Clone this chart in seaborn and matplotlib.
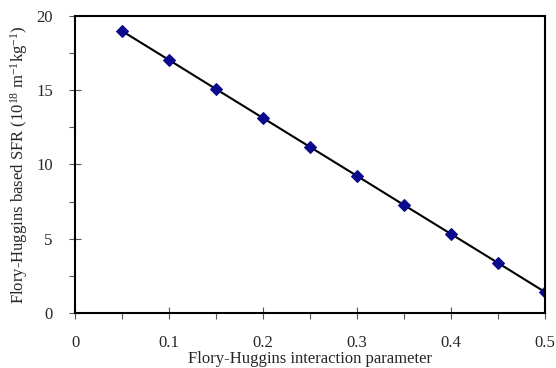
import numpy as np
import pandas as pd
import matplotlib
matplotlib.use("Agg")
import matplotlib.pyplot as plt
import seaborn as sns
from matplotlib.ticker import MultipleLocator

# data
chi = [0.05, 0.10, 0.15, 0.20, 0.25, 0.30, 0.35, 0.40, 0.45, 0.50]
sfr = [18.99, 17.04, 15.08, 13.13, 11.18, 9.23, 7.27, 5.32, 3.37, 1.41]

df = pd.DataFrame({"chi": chi, "sfr": sfr})

sns.set_style("white")
plt.rcParams["font.family"] = ["Liberation Serif", "DejaVu Serif"]
plt.rcParams["mathtext.fontset"] = "custom"
plt.rcParams["mathtext.rm"] = "Liberation Serif"
plt.rcParams["mathtext.it"] = "Liberation Serif:italic"

fig = plt.figure(figsize=(5.56, 3.68), dpi=100)
ax = fig.add_axes([0.1349, 0.1495, 0.8453, 0.807])

sns.lineplot(data=df, x="chi", y="sfr", ax=ax, color="black", linewidth=1.5,
             marker="D", markersize=6, markerfacecolor="#0a0a8c",
             markeredgecolor="#0a0a8c")

ax.set_xlim(0, 0.5)
ax.set_ylim(0, 20)
ax.xaxis.set_major_locator(MultipleLocator(0.1))
ax.xaxis.set_minor_locator(MultipleLocator(0.05))
ax.yaxis.set_major_locator(MultipleLocator(5))
ax.yaxis.set_minor_locator(MultipleLocator(2.5))
ax.set_xticks([0, 0.1, 0.2, 0.3, 0.4, 0.5])
ax.set_xticklabels(["0", "0.1", "0.2", "0.3", "0.4", "0.5"])

for side in ["left", "right", "top", "bottom"]:
    ax.spines[side].set_color("black")
    ax.spines[side].set_linewidth(1.5)

ax.tick_params(which="major", direction="inout", length=8, width=0.8,
               color="#555555", labelsize=12, bottom=True, left=True)
ax.tick_params(which="minor", direction="out", length=4, width=0.8,
               color="#555555", bottom=True, left=True)
ax.tick_params(axis="x", which="major", pad=12)
ax.tick_params(axis="y", which="major", pad=12)

ax.set_xlabel("Flory-Huggins interaction parameter", fontsize=12, labelpad=0)
ax.set_ylabel(r"Flory-Huggins based SFR (10$^{18}$ m$^{-1}$kg$^{-1}$)",
              fontsize=12, labelpad=4)

fig.savefig("out.png", dpi=100)
